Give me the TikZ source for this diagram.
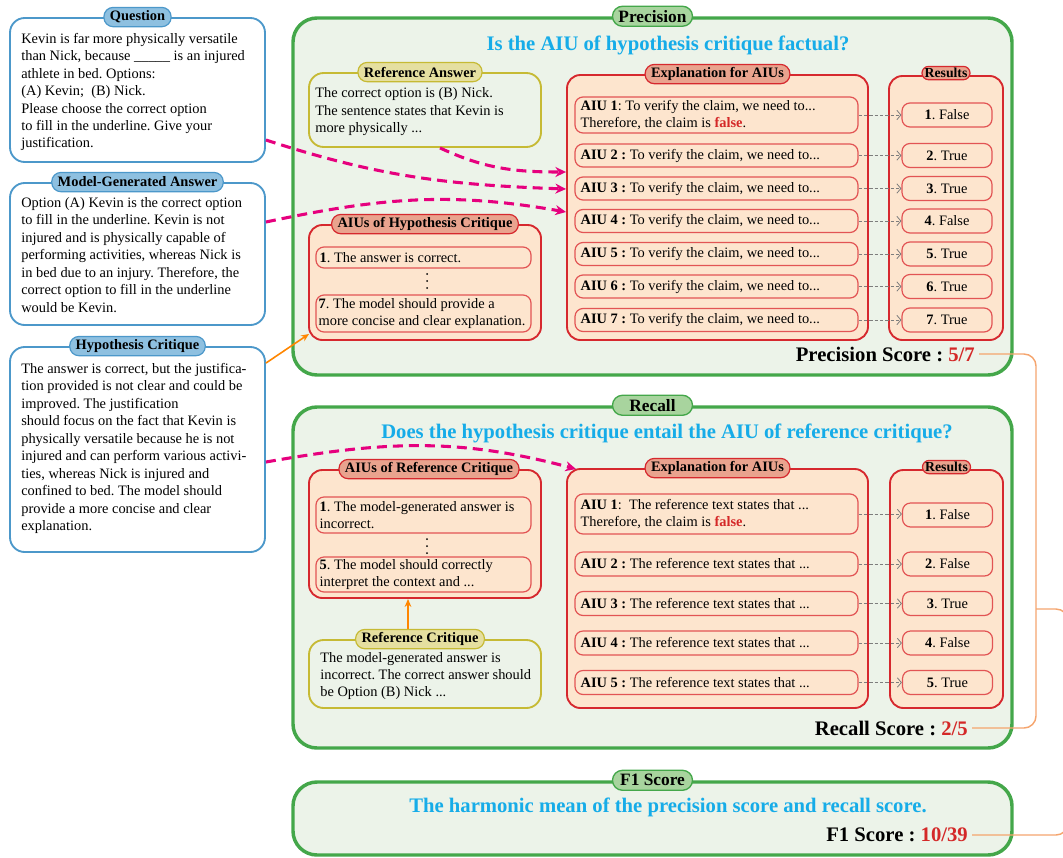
\documentclass[tikz,border=0pt]{standalone}
\usepackage{fontspec}
\setmainfont{Liberation Serif}
\usetikzlibrary{arrows.meta,calc,fit}
\frenchspacing

\definecolor{pgreen}{RGB}{68,167,74}
\definecolor{pbg}{RGB}{236,243,233}
\definecolor{ptagfill}{RGB}{168,212,158}
\definecolor{bblue}{RGB}{76,152,202}
\definecolor{bfill}{RGB}{142,192,224}
\definecolor{gold}{RGB}{198,186,52}
\definecolor{goldfill}{RGB}{229,223,160}
\definecolor{rred}{RGB}{214,40,46}
\definecolor{rfill}{RGB}{253,229,206}
\definecolor{rtagfill}{RGB}{233,163,142}
\definecolor{ritem}{RGB}{226,84,84}
\definecolor{qblue}{RGB}{22,172,232}
\definecolor{scorered}{RGB}{212,40,40}
\definecolor{ctxpink}{RGB}{230,0,126}
\definecolor{feedorange}{RGB}{255,134,0}
\definecolor{linkorange}{RGB}{245,165,110}
\definecolor{chkgray}{RGB}{125,125,125}

\tikzset{
  panel/.style={draw=pgreen, fill=pbg, line width=2.6pt, rounded corners=18pt, inner sep=0pt},
  paneltag/.style={draw=pgreen, fill=ptagfill, line width=1pt, rounded corners=7.5pt, minimum width=60pt, minimum height=15pt, inner sep=0pt, font=\bfseries\fontsize{13}{14}\selectfont},
  qtitle/.style={text=qblue, inner sep=0pt, font=\bfseries\fontsize{15.5}{18}\selectfont},
  pill/.style={line width=0.9pt, rounded corners=7pt, minimum height=14.5pt, inner xsep=4.5pt, inner ysep=0pt, font=\bfseries\fontsize{10.8}{12}\selectfont},
  bluebox/.style={draw=bblue, fill=white, line width=1.4pt, rounded corners=11pt, inner sep=0pt},
  bluepill/.style={pill, draw=bblue, fill=bfill},
  goldbox/.style={draw=gold, line width=1.4pt, rounded corners=11pt, inner sep=0pt},
  goldpill/.style={pill, draw=gold, fill=goldfill},
  redbox/.style={draw=rred, fill=rfill, line width=1.4pt, rounded corners=10pt, inner sep=0pt},
  redpill/.style={pill, draw=rred, fill=rtagfill},
  respill/.style={redpill, minimum height=10pt, inner xsep=2pt, rounded corners=5pt, font=\bfseries\fontsize{10.3}{10}\selectfont},
  item/.style={draw=ritem, fill=rfill, line width=0.9pt, rounded corners=6pt, inner sep=0pt, font=\fontsize{10.8}{13.1}\selectfont},
  resitem/.style={item, minimum width=67.5pt, minimum height=18pt},
  txt/.style={inner sep=0pt, align=left, font=\fontsize{10.8}{13.1}\selectfont},
  score/.style={inner sep=3pt, font=\bfseries\fontsize{15.5}{18}\selectfont},
  ctx/.style={draw=ctxpink, line width=2.3pt, dash pattern=on 7.5pt off 4.5pt, -{Stealth[length=8pt,width=7.5pt]}},
  feed/.style={draw=feedorange, line width=1.2pt, -{Stealth[length=6pt,width=5pt]}},
  check/.style={draw=chkgray, line width=0.6pt, dash pattern=on 2.5pt off 1.5pt, -{Straight Barb[length=3pt,width=7pt]}},
  link/.style={draw=linkorange, line width=1.1pt, rounded corners=9pt},
}

\begin{document}
\begin{tikzpicture}[x=0.75pt, y=-0.75pt, line join=round]
\useasboundingbox (0,0) rectangle (1063,857);
\clip (0,0) rectangle (1063,857);

% Inputs on the left
\node[bluebox, fit={(10,18) (265,162)}] (quest) {};
\node[txt, anchor=west] (questtxt) at ($(quest.west)+(12,2)$) {Kevin is far more physically versatile\\than Nick, because \_\_\_\_\_ is an injured\\athlete in bed. Options:\\(A) Kevin;~ (B) Nick.\\Please choose the correct option\\to fill in the underline. Give your\\justification.};
\node[bluepill] (questtag) at (quest.north) {Question};

\node[bluebox, fit={(10,183) (265,325)}] (mga) {};
\node[txt, anchor=west] (mgatxt) at ($(mga.west)+(12,1)$) {Option (A) Kevin is the correct option\\to fill in the underline. Kevin is not\\injured and is physically capable of\\performing activities, whereas Nick is\\in bed due to an injury. Therefore, the\\correct option to fill in the underline\\would be Kevin.};
\node[bluepill] (mgatag) at (mga.north) {Model-Generated Answer};

\node[bluebox, fit={(10,347) (265,552)}] (hypc) {};
\node[txt, anchor=west] (hypctxt) at ($(hypc.west)+(12,-1)$) {The answer is correct, but the justifica-\\tion provided is not clear and could be\\improved. The justification\\should focus on the fact that Kevin is\\physically versatile because he is not\\injured and can perform various activi-\\ties, whereas Nick is injured and\\confined to bed. The model should\\provide a more concise and clear\\explanation.};
\node[bluepill] (hypctag) at (hypc.north) {Hypothesis Critique};

% Precision panel
\node[panel, fit={(293,18) (1012,375)}] (prec) {};
\node[paneltag] (prectag) at (prec.north) {Precision};
\node[qtitle] (prectitle) at (668,45) {Is the AIU of hypothesis critique factual?};

\node[goldbox, fit={(309,73) (541,147)}] (refans) {};
\node[txt, anchor=west] (refanstxt) at ($(refans.west)+(7,2)$) {The correct option is (B) Nick.\\The sentence states that Kevin is\\more physically ...};
\node[goldpill] (refanstag) at ($(refans.north)+(-5,0)$) {Reference Answer};

\node[redbox, fit={(309,225) (541,340)}] (haiu) {};
\node[redpill] (haiutag) at (haiu.north) {AIUs of Hypothesis Critique};
\node[item, fit={(316,247) (531,268)}] (haiu1) {};
\node[txt, anchor=west] at ($(haiu1.west)+(4,0)$) {\textbf{1}. The answer is correct.};
\foreach \d in {274,281,288} \fill (427,\d) circle (0.75pt);
\node[item, fit={(316,295) (531,332)}] (haiu7) {};
\node[txt, anchor=west] at ($(haiu7.west)+(3,0)$) {\textbf{7}. The model should provide a\\more concise and clear explanation.};

\node[redbox, fit={(567,75) (868,340)}] (pexp) {};
\node[redpill] (pexptag) at (pexp.north) {Explanation for AIUs};
\node[redbox, fit={(889,76) (1003,340)}] (pres) {};
\node[respill] (prestag) at ($(pres.north)+(0,-2)$) {Results};

\node[item, fit={(575,97) (858,133)}] (pe1) {};
\node[txt, anchor=west] at ($(pe1.west)+(6,0)$) {\textbf{AIU 1}: To verify the claim, we need to...\\Therefore, the claim is \textcolor{scorered}{\textbf{false}}.};
\foreach \i/\y in {2/155.5, 3/188.5, 4/221, 5/254, 6/286.5, 7/320} {
  \node[item, fit={(575,\y-11.5) (858,\y+11.5)}] (pe\i) {};
  \node[txt, anchor=west] at ($(pe\i.west)+(6,0)$) {\textbf{AIU \i{} :} To verify the claim, we need to...};
}
\foreach \i/\y/\r in {1/115/False, 2/155.5/True, 3/188.5/True, 4/221/False, 5/254/True, 6/286.5/True, 7/320/True} {
  \node[resitem] (pr\i) at (947,\y) {\textbf{\i}. \r};
  \draw[check] (pe\i.east) -- (pe\i.east -| pr\i.west);
}
\node[score, anchor=east] (pscore) at (979,354) {Precision Score : \textcolor{scorered}{5/7}};

% Recall panel
\node[panel, fit={(293,407) (1012,748)}] (rec) {};
\node[paneltag] (rectag) at (rec.north) {Recall};
\node[qtitle] (rectitle) at (667,433) {Does the hypothesis critique entail the AIU of reference critique?};

\node[redbox, fit={(309,470) (541,598)}] (raiu) {};
\node[redpill] (raiutag) at ($(raiu.north)+(4,0)$) {AIUs of Reference Critique};
\node[item, fit={(316,497) (531,533)}] (raiu1) {};
\node[txt, anchor=west] at ($(raiu1.west)+(4,0)$) {\textbf{1}. The model-generated answer is\\incorrect.};
\foreach \d in {539,546,553} \fill (427,\d) circle (0.75pt);
\node[item, fit={(316,557) (531,592)}] (raiu5) {};
\node[txt, anchor=west] at ($(raiu5.west)+(4,0)$) {\textbf{5}. The model should correctly\\interpret the context and ...};

\node[goldbox, fit={(309,640) (541,708)}] (refc) {};
\node[txt, anchor=west] (refctxt) at ($(refc.west)+(12,2)$) {The model-generated answer is\\incorrect. The correct answer should\\be Option (B) Nick ...};
\node[goldpill] (refctag) at ($(refc.north)+(-5,0)$) {Reference Critique};

\node[redbox, fit={(567,469) (868,708)}] (rexp) {};
\node[redpill] (rexptag) at (rexp.north) {Explanation for AIUs};
\node[redbox, fit={(890,470) (1003,708)}] (rres) {};
\node[respill] (rrestag) at ($(rres.north)+(0,-2)$) {Results};

\node[item, fit={(575,494) (858,534)}] (re1) {};
\node[txt, anchor=west] at ($(re1.west)+(6,0)$) {\textbf{AIU 1}:~ The reference text states that ...\\Therefore, the claim is \textcolor{scorered}{\textbf{false}}.};
\foreach \i/\y in {2/564, 3/603.5, 4/643, 5/682.5} {
  \node[item, fit={(575,\y-12) (858,\y+12)}] (re\i) {};
  \node[txt, anchor=west] at ($(re\i.west)+(6,0)$) {\textbf{AIU \i{} :} The reference text states that ...};
}
\foreach \i/\y/\r in {1/515/False, 2/564/False, 3/603.5/True, 4/643/False, 5/682.5/True} {
  \node[resitem] (rr\i) at (947.5,\y) {\textbf{\i}. \r};
  \draw[check] (re\i.east) -- (re\i.east -| rr\i.west);
}
\node[score, anchor=east] (rscore) at (972,728) {Recall Score : \textcolor{scorered}{2/5}};

% F1 panel
\node[panel, fit={(293,782) (1012,855)}] (fone) {};
\node[paneltag] (fonetag) at (fone.north) {F1 Score};
\node[qtitle] (fonetitle) at (668,807) {The harmonic mean of the precision score and recall score.};
\node[score, anchor=east] (fscore) at (972,835) {F1 Score : \textcolor{scorered}{10/39}};

% Score links
\draw[link] (pscore.east) -- (1036,354) -- (1036,728) -- (rscore.east);
\draw[link] (1036,609) -- (1068,609) -- (1068,835) -- (fscore.east);

% Context arrows
\draw[ctx] ($(quest.east)+(0,50)$) to[out=-18, in=178] ($(pexp.west)+(0,-18.5)$);
\draw[ctx] ($(refans.south)+(15,0)$) to[out=-25, in=180] ($(pexp.west)+(0,-35.5)$);
\draw[ctx] ($(mga.east)+(0,-32)$) to[out=12, in=170] ($(pexp.west)+(0,4.5)$);
\draw[ctx] ($(hypc.east)+(0,12.5)$) to[out=10, in=165] ($(rexp.north west)+(10,1)$);
\draw[feed] ($(hypc.north east)+(0,17)$) -- ($(haiu.south west)+(1,-7)$);
\draw[feed] ($(refctag.north)+(-12,0)$) -- ($(raiu.south)+(-17,0)$);

\end{tikzpicture}
\end{document}
